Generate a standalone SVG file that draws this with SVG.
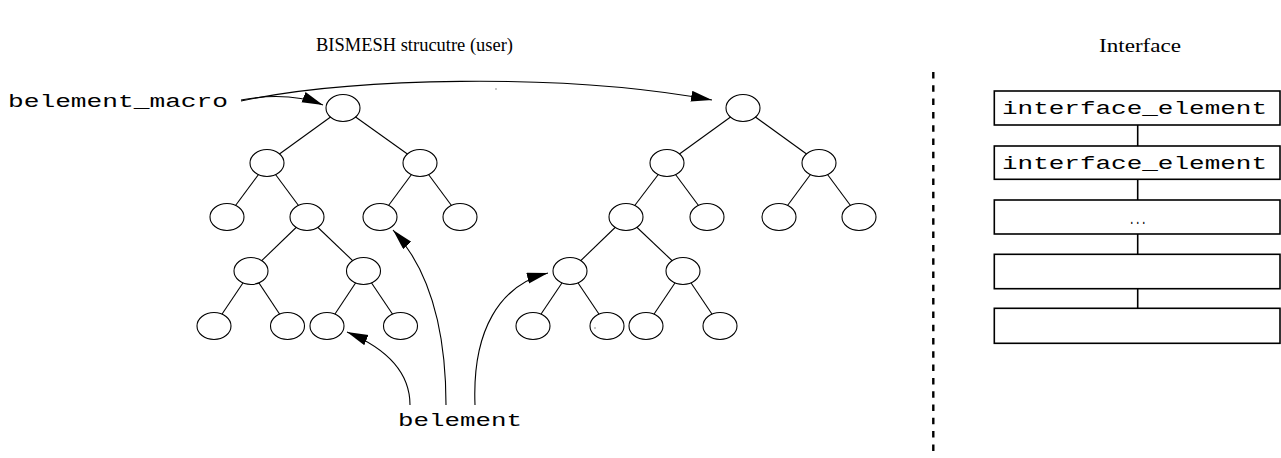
<svg xmlns="http://www.w3.org/2000/svg" width="1281" height="458" viewBox="0 0 1281 458">
<style>
.n{fill:#fff;stroke:#000;stroke-width:1.1}
.e{stroke:#000;stroke-width:1.1;fill:none}
.a{stroke:#000;stroke-width:1.1;fill:none;marker-end:url(#ah)}
.box{fill:#fff;stroke:#000;stroke-width:1.6}
.mono{font-family:"Liberation Mono","Courier New",monospace;font-size:18px;fill:#000}
.ser{font-family:"Liberation Serif","Times New Roman",serif;font-size:19px;fill:#000}
.dot{fill:#666}
</style>
<defs>
<marker id="ah" markerUnits="userSpaceOnUse" markerWidth="22" markerHeight="12" refX="21" refY="5.5" orient="auto">
<path d="M0,0 L21,5.5 L0,11 z" fill="#000"/>
</marker>
</defs>
<rect width="1281" height="458" fill="#fff"/>
<g id="titles">
<text class="ser" x="316" y="51" textLength="197" lengthAdjust="spacingAndGlyphs">BISMESH strucutre (user)</text>
<text class="ser" x="1099" y="52" textLength="82" lengthAdjust="spacingAndGlyphs">Interface</text>
</g>
<g id="connectors">
<line class="e" x1="343" y1="108" x2="267" y2="163"/>
<line class="e" x1="343" y1="108" x2="420" y2="163"/>
<line class="e" x1="267" y1="163" x2="227" y2="217"/>
<line class="e" x1="267" y1="163" x2="307" y2="217"/>
<line class="e" x1="420" y1="163" x2="380" y2="217"/>
<line class="e" x1="420" y1="163" x2="460" y2="217"/>
<line class="e" x1="307" y1="217" x2="251" y2="271"/>
<line class="e" x1="307" y1="217" x2="363.5" y2="271"/>
<line class="e" x1="251" y1="271" x2="214" y2="326"/>
<line class="e" x1="251" y1="271" x2="287.5" y2="326"/>
<line class="e" x1="363.5" y1="271" x2="327" y2="326"/>
<line class="e" x1="363.5" y1="271" x2="400.5" y2="326"/>
<line class="e" x1="743" y1="108" x2="667" y2="163"/>
<line class="e" x1="743" y1="108" x2="819" y2="163"/>
<line class="e" x1="667" y1="163" x2="626" y2="217"/>
<line class="e" x1="667" y1="163" x2="707" y2="217"/>
<line class="e" x1="819" y1="163" x2="779" y2="217"/>
<line class="e" x1="819" y1="163" x2="859" y2="217"/>
<line class="e" x1="626" y1="217" x2="570" y2="271"/>
<line class="e" x1="626" y1="217" x2="683" y2="271"/>
<line class="e" x1="570" y1="271" x2="533" y2="326"/>
<line class="e" x1="570" y1="271" x2="607" y2="326"/>
<line class="e" x1="683" y1="271" x2="646" y2="326"/>
<line class="e" x1="683" y1="271" x2="720" y2="326"/>
<line x1="1137.7" y1="125" x2="1137.7" y2="146" stroke="#000" stroke-width="1.6"/>
<line x1="1137.7" y1="179" x2="1137.7" y2="200" stroke="#000" stroke-width="1.6"/>
<line x1="1137.7" y1="234" x2="1137.7" y2="254" stroke="#000" stroke-width="1.6"/>
<line x1="1137.7" y1="289" x2="1137.7" y2="308" stroke="#000" stroke-width="1.6"/>
<path class="a" d="M241,100 C 268,95 298,95 323,105"/>
<path class="a" d="M241,101 C 350,78 560,72 712,100"/>
<path class="a" d="M410,405 C 410,375 390,350 347,332"/>
<path class="a" d="M446,405 C 446,330 430,270 393,230"/>
<path class="a" d="M475,405 C 472,330 500,285 548,273"/>
<line x1="933.3" y1="72" x2="933.3" y2="453" stroke="#000" stroke-width="2.4" stroke-dasharray="6.5,6.8"/>
</g>
<g id="left-tree">
<ellipse id="L0" class="n" cx="343" cy="108" rx="17" ry="13.5"/>
<ellipse id="L1a" class="n" cx="267" cy="163" rx="17" ry="13.5"/>
<ellipse id="L1b" class="n" cx="420" cy="163" rx="17" ry="13.5"/>
<ellipse id="L2a" class="n" cx="227" cy="217" rx="17" ry="13.5"/>
<ellipse id="L2b" class="n" cx="307" cy="217" rx="17" ry="13.5"/>
<ellipse id="L2c" class="n" cx="380" cy="217" rx="17" ry="13.5"/>
<ellipse id="L2d" class="n" cx="460" cy="217" rx="17" ry="13.5"/>
<ellipse id="L3a" class="n" cx="251" cy="271" rx="17" ry="13.5"/>
<ellipse id="L3b" class="n" cx="363.5" cy="271" rx="17" ry="13.5"/>
<ellipse id="L4a" class="n" cx="214" cy="326" rx="17" ry="13.5"/>
<ellipse id="L4b" class="n" cx="287.5" cy="326" rx="17" ry="13.5"/>
<ellipse id="L4c" class="n" cx="327" cy="326" rx="17" ry="13.5"/>
<ellipse id="L4d" class="n" cx="400.5" cy="326" rx="17" ry="13.5"/>
</g>
<g id="right-tree">
<ellipse id="R0" class="n" cx="743" cy="108" rx="17" ry="13.5"/>
<ellipse id="R1a" class="n" cx="667" cy="163" rx="17" ry="13.5"/>
<ellipse id="R1b" class="n" cx="819" cy="163" rx="17" ry="13.5"/>
<ellipse id="R2a" class="n" cx="626" cy="217" rx="17" ry="13.5"/>
<ellipse id="R2b" class="n" cx="707" cy="217" rx="17" ry="13.5"/>
<ellipse id="R2c" class="n" cx="779" cy="217" rx="17" ry="13.5"/>
<ellipse id="R2d" class="n" cx="859" cy="217" rx="17" ry="13.5"/>
<ellipse id="R3a" class="n" cx="570" cy="271" rx="17" ry="13.5"/>
<ellipse id="R3b" class="n" cx="683" cy="271" rx="17" ry="13.5"/>
<ellipse id="R4a" class="n" cx="533" cy="326" rx="17" ry="13.5"/>
<ellipse id="R4b" class="n" cx="607" cy="326" rx="17" ry="13.5"/>
<ellipse id="R4c" class="n" cx="646" cy="326" rx="17" ry="13.5"/>
<ellipse id="R4d" class="n" cx="720" cy="326" rx="17" ry="13.5"/>
</g>
<circle class="dot" cx="496" cy="89" r="0.7"/>
<circle class="dot" cx="595" cy="328" r="0.7"/>
<g id="labels">
<text id="lbl-macro" class="mono" x="8" y="106.5" textLength="220" lengthAdjust="spacingAndGlyphs">belement_macro</text>
<text id="lbl-belement" class="mono" x="398" y="425.7" textLength="124" lengthAdjust="spacingAndGlyphs">belement</text>
</g>
<g id="interface">
<g id="IE1"><rect class="box" x="994.3" y="91" width="285.7" height="34"/><text class="mono" x="1002" y="114.3" textLength="265" lengthAdjust="spacingAndGlyphs">interface_element</text></g>
<g id="IE2"><rect class="box" x="994.3" y="146" width="285.7" height="33.3"/><text class="mono" x="1002" y="168.5" textLength="265" lengthAdjust="spacingAndGlyphs">interface_element</text></g>
<g id="IE3"><rect class="box" x="994.3" y="200" width="285.7" height="34"/><text class="mono" x="1137.7" y="224.3" text-anchor="middle" textLength="18" lengthAdjust="spacingAndGlyphs" style="font-size:14px">...</text></g>
<g id="IE4"><rect class="box" x="994.3" y="254.3" width="285.7" height="34.4"/></g>
<g id="IE5"><rect class="box" x="994.3" y="308.3" width="285.7" height="35"/></g>
</g>
</svg>
